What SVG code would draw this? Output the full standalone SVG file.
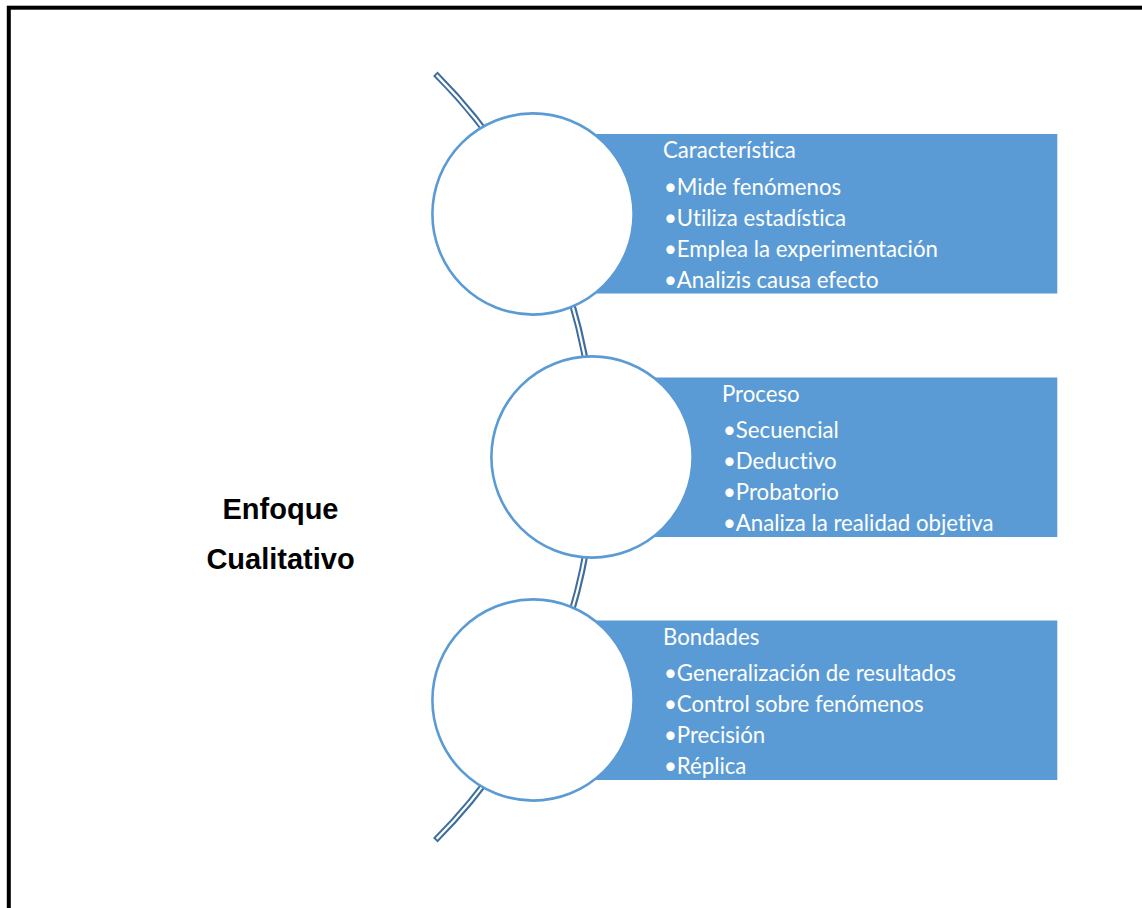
<svg xmlns="http://www.w3.org/2000/svg" width="1142" height="908" viewBox="0 0 1142 908">
  <style>
    .panel { fill: #5B9BD5; }
    .disc { fill: #FFFFFF; stroke: #5B9BD5; stroke-width: 2.6; }
    .arc-outer { fill: none; stroke: #3E6E9E; stroke-width: 6.4; }
    .arc-inner { fill: none; stroke: #FFFFFF; stroke-width: 2.2; }
    .head, .item { font-family: Lato, "Liberation Sans", sans-serif; font-size: 22.2px; fill: #FFFFFF; font-variant-ligatures: none; }
    .title { font-family: "Liberation Sans", Arial, sans-serif; font-weight: bold; font-size: 29px; fill: #000000; text-anchor: middle; }
  </style>

  <rect width="1142" height="908" fill="#FFFFFF"/>
  <!-- page frame -->
  <rect x="8.8" y="7.7" width="1200" height="1000" fill="none" stroke="#000000" stroke-width="4"/>

  <!-- curved spine connecting the three discs -->
  <g id="connectors">
    <path class="arc-outer" d="M 435.3 73.7 A 542 542 0 0 1 435.3 840.3"/>
    <path class="arc-inner" d="M 436.6 75.1 A 542 542 0 0 1 436.6 838.9"/>
  </g>

  <g id="title">
    <text class="title" x="280.5" y="519">Enfoque</text>
    <text class="title" x="280.5" y="569">Cualitativo</text>
  </g>

  <g id="node-caracteristica">
    <rect class="panel" x="583" y="134" width="474.3" height="159.5"/>
    <circle class="disc" cx="533" cy="214" r="100.6"/>
    <text class="head" x="663" y="158">Característica</text>
    <text class="item" x="664" y="194.5">•Mide fenómenos</text>
    <text class="item" x="664" y="225.5">•Utiliza estadística</text>
    <text class="item" x="664" y="256.5">•Emplea la experimentación</text>
    <text class="item" x="664" y="287.5">•Analizis causa efecto</text>
  </g>

  <g id="node-proceso">
    <rect class="panel" x="642" y="377.5" width="415.3" height="159.5"/>
    <circle class="disc" cx="592" cy="457" r="100.6"/>
    <text class="head" x="722" y="401.5">Proceso</text>
    <text class="item" x="723" y="438">•Secuencial</text>
    <text class="item" x="723" y="469">•Deductivo</text>
    <text class="item" x="723" y="500">•Probatorio</text>
    <text class="item" x="723" y="531">•Analiza la realidad objetiva</text>
  </g>

  <g id="node-bondades">
    <rect class="panel" x="583" y="620.5" width="474.3" height="159.5"/>
    <circle class="disc" cx="533" cy="700" r="100.6"/>
    <text class="head" x="663" y="644.5">Bondades</text>
    <text class="item" x="664" y="681">•Generalización de resultados</text>
    <text class="item" x="664" y="712">•Control sobre fenómenos</text>
    <text class="item" x="664" y="743">•Precisión</text>
    <text class="item" x="664" y="774">•Réplica</text>
  </g>
</svg>
